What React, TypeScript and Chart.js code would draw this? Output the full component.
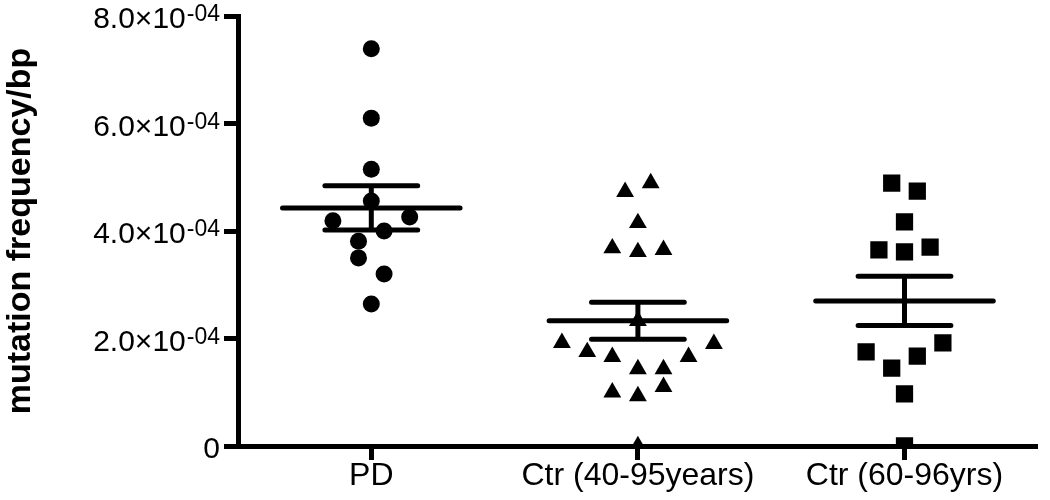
import React, { useEffect, useRef } from 'react';
import { Chart, registerables } from 'chart.js';

Chart.register(...registerables);

// ---- data (values in units of 1e-4 mutations/bp) ----
const UNIT = 1e-4;
const categories = ['PD', 'Ctr (40-95years)', 'Ctr (60-96yrs)'];
const yTickValues = [0, 2, 4, 6, 8];
const yTickMantissa = ['0', '2.0×10', '4.0×10', '6.0×10', '8.0×10'];
const yTickExponent = ['', '-04', '-04', '-04', '-04'];
const yAxisTitle = 'mutation frequency/bp';

const pdValues = [7.39, 6.1, 5.15, 4.56, 4.19, 4.26, 4.0, 3.81, 3.5, 3.2, 2.64];
const pdJitter = [0, 0, 0, 0, -0.144, 0.144, 0.048, -0.048, -0.048, 0.048, 0];

const ctr40Values = [4.73, 4.89, 4.15, 3.68, 3.61, 3.65, 2.33, 1.92, 1.75, 1.66, 1.9, 1.66, 1.43, 1.43, 1.1, 1.0, 0.93, 0];
const ctr40Jitter = [-0.048, 0.048, 0, -0.096, 0, 0.096, 0, -0.285, -0.19, -0.096, 0.285, 0.19, 0, 0.096, 0.096, -0.096, 0, 0];

const ctr60Values = [4.89, 4.74, 4.17, 3.65, 3.61, 3.7, 1.75, 1.45, 1.67, 1.92, 0.97, 0];
const ctr60Jitter = [-0.048, 0.048, 0, -0.096, 0, 0.096, -0.144, -0.048, 0.048, 0.144, 0, 0];

const groupMeans = [4.43, 2.33, 2.7];
const groupSems = [0.41, 0.345, 0.46];

const MEAN_HALF = 0.333;
const CAP_HALF = 0.174;
const FONT = "'Liberation Sans', Arial, sans-serif";

function points(values: number[], jitter: number[], cat: number) {
  return values.map((v, i) => ({ x: cat + 1 + jitter[i], y: v * UNIT }));
}

function meanSemSegments() {
  const out: { x: number; y: number | null }[] = [];
  groupMeans.forEach((m, i) => {
    const c = i + 1;
    const s = groupSems[i];
    const seg = (x1: number, y1: number, x2: number, y2: number) => {
      out.push({ x: x1, y: y1 * UNIT });
      out.push({ x: x2, y: y2 * UNIT });
      out.push({ x: x2, y: null });
    };
    seg(c - MEAN_HALF, m, c + MEAN_HALF, m);
    seg(c - CAP_HALF, m + s, c + CAP_HALF, m + s);
    seg(c - CAP_HALF, m - s, c + CAP_HALF, m - s);
    seg(c, m - s, c, m + s);
  });
  return out;
}

// draws y tick labels with a real superscript exponent
const yLabelPlugin = {
  id: 'yExpLabels',
  afterDraw(chart: any) {
    const ctx = chart.ctx as CanvasRenderingContext2D;
    const scale = chart.scales.y;
    const right = scale.right - 18;
    ctx.save();
    ctx.fillStyle = '#000';
    ctx.textBaseline = 'alphabetic';
    yTickValues.forEach((v, i) => {
      const py = scale.getPixelForValue(v * UNIT);
      const exp = yTickExponent[i];
      let ew = 0;
      if (exp) {
        ctx.font = `23px ${FONT}`;
        ew = ctx.measureText(exp).width;
        ctx.textAlign = 'left';
        ctx.fillText(exp, right - ew, py + 5);
      }
      ctx.font = `30px ${FONT}`;
      ctx.textAlign = 'right';
      ctx.fillText(yTickMantissa[i], right - ew - (exp ? 1 : 0), py + 12);
    });
    ctx.restore();
  },
};

export default function App() {
  const ref = useRef<HTMLCanvasElement | null>(null);

  useEffect(() => {
    if (!ref.current) return;
    const chart = new Chart(ref.current, {
      type: 'scatter',
      data: {
        datasets: [
          {
            label: 'mean ± SEM',
            data: meanSemSegments() as any,
            showLine: true,
            spanGaps: false,
            borderColor: '#000',
            borderWidth: 5,
            borderCapStyle: 'round',
            pointRadius: 0,
            order: 0,
          } as any,
          {
            label: categories[0],
            data: points(pdValues, pdJitter, 0),
            pointStyle: 'circle',
            pointRadius: 8.5,
            backgroundColor: '#000',
            borderWidth: 0,
            order: 1,
          },
          {
            label: categories[1],
            data: points(ctr40Values, ctr40Jitter, 1),
            pointStyle: 'triangle',
            pointRadius: 10.3,
            backgroundColor: '#000',
            borderWidth: 0,
            order: 1,
          },
          {
            label: categories[2],
            data: points(ctr60Values, ctr60Jitter, 2),
            pointStyle: 'rect',
            pointRadius: 12.2,
            backgroundColor: '#000',
            borderWidth: 0,
            order: 1,
          },
        ],
      },
      options: {
        responsive: false,
        animation: false,
        devicePixelRatio: 1,
        layout: { padding: { top: 16, left: 0, right: 0, bottom: 0 } },
        plugins: {
          legend: { display: false },
          tooltip: { enabled: false },
        },
        scales: {
          x: {
            type: 'linear',
            min: 0.5,
            max: 3.5,
            afterBuildTicks: (scale: any) => {
              scale.ticks = [{ value: 1 }, { value: 2 }, { value: 3 }];
            },
            afterFit: (scale: any) => {
              scale.height = 54;
            },
            ticks: {
              autoSkip: false,
              maxRotation: 0,
              padding: 0,
              color: '#000',
              font: { family: FONT, size: 32, lineHeight: 1.0 },
              callback: (_v: any, i: number) => categories[i],
            },
            grid: {
              display: true,
              drawOnChartArea: false,
              drawTicks: true,
              tickLength: 14,
              tickWidth: 5,
              tickColor: '#000',
              color: '#000',
            },
            border: { display: true, width: 5, color: '#000' },
          },
          y: {
            type: 'linear',
            min: 0,
            max: 8 * UNIT,
            afterBuildTicks: (scale: any) => {
              scale.ticks = yTickValues.map((v) => ({ value: v * UNIT }));
            },
            afterFit: (scale: any) => {
              scale.width = 238;
            },
            ticks: {
              display: false,
            },
            grid: {
              display: true,
              drawOnChartArea: false,
              drawTicks: true,
              tickLength: 14,
              tickWidth: 5,
              tickColor: '#000',
              color: '#000',
            },
            border: { display: true, width: 5, color: '#000' },
            title: {
              display: true,
              text: yAxisTitle,
              color: '#000',
              font: { family: FONT, size: 34, weight: 'bold', lineHeight: 1.2 },
              padding: { top: 0, bottom: 0 },
            },
          },
        },
      },
      plugins: [yLabelPlugin],
    });
    return () => chart.destroy();
  }, []);

  return (
    <div style={{ position: 'fixed', left: 0, top: 0, width: 1050, height: 500, background: '#fff' }}>
      <canvas ref={ref} width={1050} height={500} style={{ width: 1050, height: 500 }} />
    </div>
  );
}
